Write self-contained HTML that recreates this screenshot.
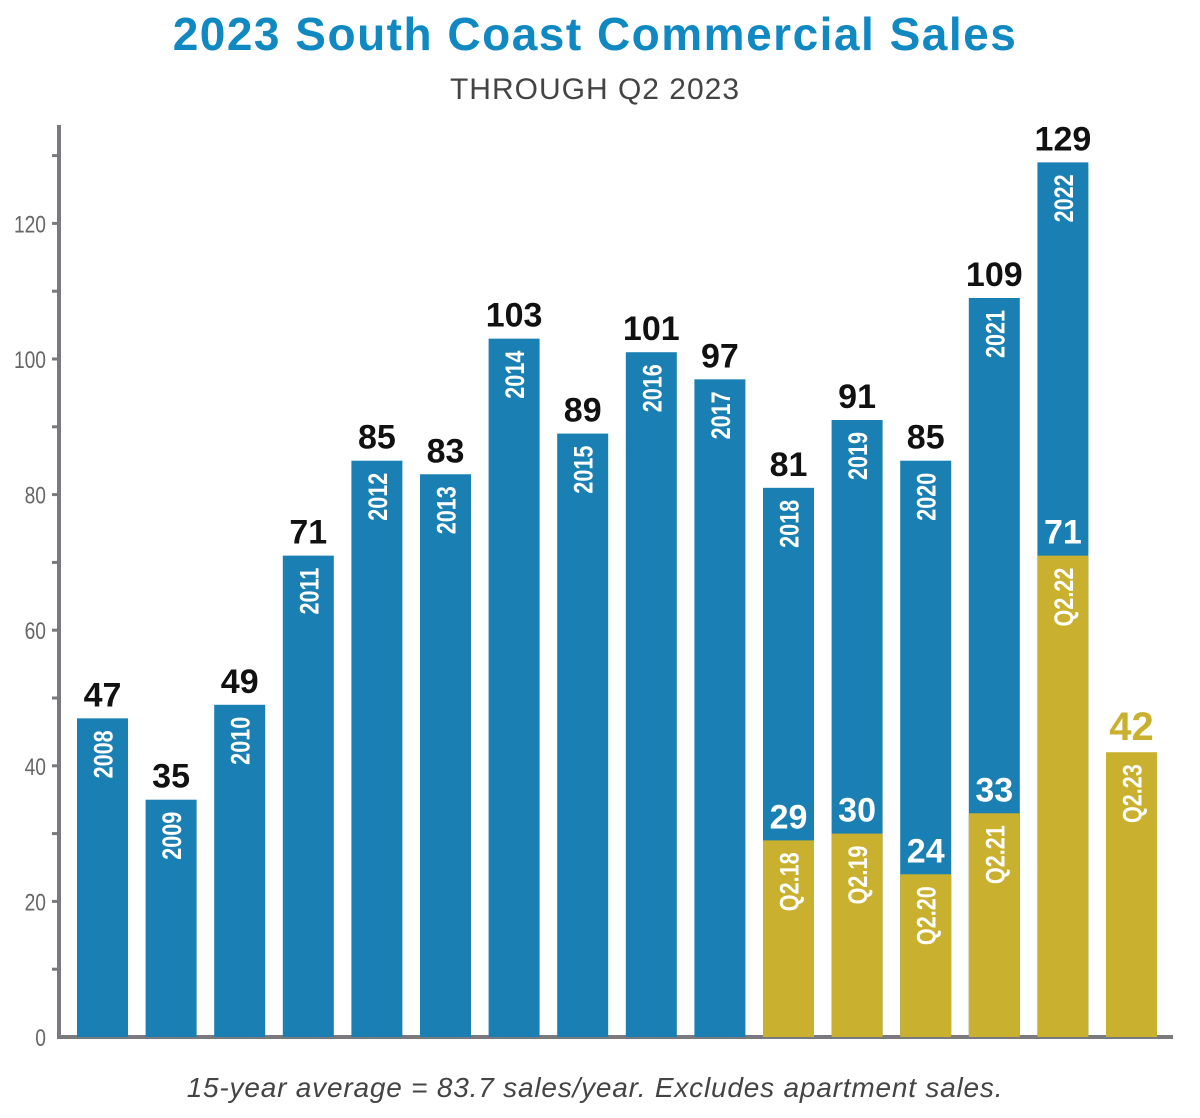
<!DOCTYPE html>
<html><head><meta charset="utf-8">
<style>
body{margin:0;background:#fff;width:1200px;height:1113px;overflow:hidden;font-family:"Liberation Sans",sans-serif;}
</style></head>
<body>
<svg id="chart" width="1200" height="1113" viewBox="0 0 1200 1113" xmlns="http://www.w3.org/2000/svg">
<text x="595" y="50" text-anchor="middle" font-family="Liberation Sans, sans-serif" font-weight="bold" font-size="46" letter-spacing="1.5" fill="#1089c2">2023 South Coast Commercial Sales</text>
<text x="595" y="99" text-anchor="middle" font-family="Liberation Sans, sans-serif" font-size="30" letter-spacing="1" fill="#444">THROUGH Q2 2023</text>
<text x="595" y="1097" text-anchor="middle" font-family="Liberation Sans, sans-serif" font-style="italic" font-size="28" letter-spacing="0.8" fill="#444">15-year average = 83.7 sales/year.  Excludes apartment sales.</text>
<g id="marks"></g>
</svg>
<script>
const years = ["2008","2009","2010","2011","2012","2013","2014","2015","2016","2017","2018","2019","2020","2021","2022",""];
const totals = [47,35,49,71,85,83,103,89,101,97,81,91,85,109,129,null];
const q2Labels = ["","","","","","","","","","","Q2.18","Q2.19","Q2.20","Q2.21","Q2.22","Q2.23"];
const q2Values = [null,null,null,null,null,null,null,null,null,null,29,30,24,33,71,42];
const yTicks = [0,20,40,60,80,100,120];

const NS="http://www.w3.org/2000/svg";
const g=document.getElementById('marks');
const y0=1037, ppu=6.78, x0=77, pitch=68.6, bw=51;
const yS=v=>y0-v*ppu;
const xS=i=>x0+i*pitch;
function mk(tag,attrs,txt){const e=document.createElementNS(NS,tag);for(const k in attrs)e.setAttribute(k,attrs[k]);if(txt!==undefined)e.textContent=txt;g.appendChild(e);return e;}

let ya=mk('line',{x1:59,y1:125,x2:59,y2:y0,stroke:'#7a7a7e','stroke-width':4});


let xa=mk('line',{x1:57,y1:y0,x2:1173,y2:y0,stroke:'#7a7a7e','stroke-width':4});


for(let v=10;v<=130;v+=10){
  let t=mk('line',{x1:52,y1:yS(v),x2:59,y2:yS(v),stroke:'#7a7a7e','stroke-width':3});
  
  
}
yTicks.forEach(v=>{
  let t=mk('text',{x:46,y:yS(v)+9,'text-anchor':'end','font-size':24,fill:'#666','font-family':'Liberation Sans, sans-serif',transform:`translate(46 0) scale(0.8 1) translate(-46 0)`},String(v));
  
  
});

years.forEach((yr,i)=>{
  const x=xS(i), cx=x+bw/2;
  const tot=totals[i], q=q2Values[i];
  if(tot!==null){
    let r=mk('rect',{x:x,y:yS(tot),width:bw,height:y0-yS(tot),fill:'#1a7fb2'});
    
    
    let l=mk('text',{x:cx,y:yS(tot)-12,'text-anchor':'middle','font-size':34,'font-weight':'bold',fill:'#111','font-family':'Liberation Sans, sans-serif'},String(tot));
    
    
    const ty=yS(tot)+12;
    let yl=mk('text',{x:0,y:0,'text-anchor':'end','font-size':27,'font-weight':'bold',fill:'#fff','font-family':'Liberation Sans, sans-serif',transform:`translate(${cx+10} ${ty}) rotate(-90) scale(0.8 1)`},yr);
    
    
  }
  if(q!==null){
    let r=mk('rect',{x:x,y:yS(q),width:bw,height:y0-yS(q),fill:'#c9b02f'});
    
    
    let l=mk('text',{x:cx,y:yS(q)-12,'text-anchor':'middle','font-size':tot===null?40:34,'font-weight':'bold',fill:tot===null?'#c9b02f':'#fff','font-family':'Liberation Sans, sans-serif'},String(q));
    
    
    const ty=yS(q)+12;
    let ql=mk('text',{x:0,y:0,'text-anchor':'end','font-size':27,'font-weight':'bold',fill:'#fff','font-family':'Liberation Sans, sans-serif',transform:`translate(${cx+10} ${ty}) rotate(-90) scale(0.8 1)`},q2Labels[i]);
    
    
  }
});
</script>
</body></html>
